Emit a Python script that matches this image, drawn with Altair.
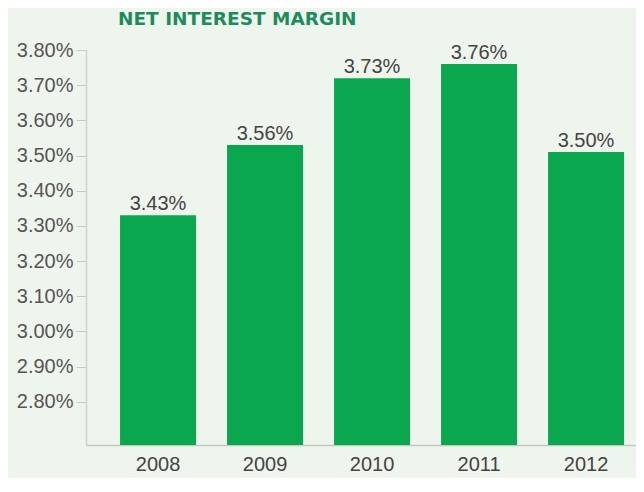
import altair as alt
import pandas as pd

years = ["2008", "2009", "2010", "2011", "2012"]
bar_values = [3.33, 3.53, 3.72, 3.76, 3.51]
bar_labels = ["3.43%", "3.56%", "3.73%", "3.76%", "3.50%"]
y_ticks = [2.8, 2.9, 3.0, 3.1, 3.2, 3.3, 3.4, 3.5, 3.6, 3.7, 3.8]
y_min, y_max = 2.677, 3.80

df = pd.DataFrame({"year": years, "value": bar_values, "label": bar_labels})

FONT = "Liberation Sans"

x = alt.X(
    "year:N",
    sort=years,
    title=None,
    scale=alt.Scale(paddingInner=0.29, paddingOuter=0.215, align=0.74),
    axis=alt.Axis(
        labelAngle=0,
        tickSize=0,
        labelPadding=9,
        labelFontSize=20,
        labelFont=FONT,
        labelColor="#444444",
        domainColor="#c4c8c2",
        domainWidth=1.5,
    ),
)
y = alt.Y(
    "value:Q",
    title=None,
    scale=alt.Scale(domain=[y_min, y_max], zero=False, nice=False),
    axis=alt.Axis(
        values=y_ticks,
        labelExpr="format(datum.value, '.2f') + '%'",
        tickSize=10,
        tickColor="#c8ccc6",
        labelPadding=3,
        labelFontSize=20,
        labelFont=FONT,
        labelColor="#555555",
        domainColor="#cfd3cd",
        domainWidth=1.5,
        grid=False,
    ),
)

base = alt.Chart(df)
bars = base.mark_bar(color="#0aa74f").encode(x=x, y=y, y2=alt.datum(y_min))
texts = base.mark_text(
    baseline="alphabetic", dy=-5, fontSize=20, font=FONT, color="#444444"
).encode(x=x, y=y, text="label:N")

chart = (
    alt.layer(bars, texts)
    .properties(
        width=550,
        height=395,
        autosize=alt.AutoSizeParams(type="none"),
        padding={"left": 78, "top": 42, "right": 0, "bottom": 33},
        background="#eef5ec",
        title=alt.TitleParams(
            "NET INTEREST MARGIN",
            anchor="start",
            frame="group",
            dx=32,
            offset=12,
            font="DejaVu Sans",
            fontSize=18.5,
            fontWeight="bold",
            color="#1e8a5e",
        ),
    )
    .configure_view(stroke=None)
)

chart.save("out.html", embed_options={"renderer": "svg", "actions": False})
